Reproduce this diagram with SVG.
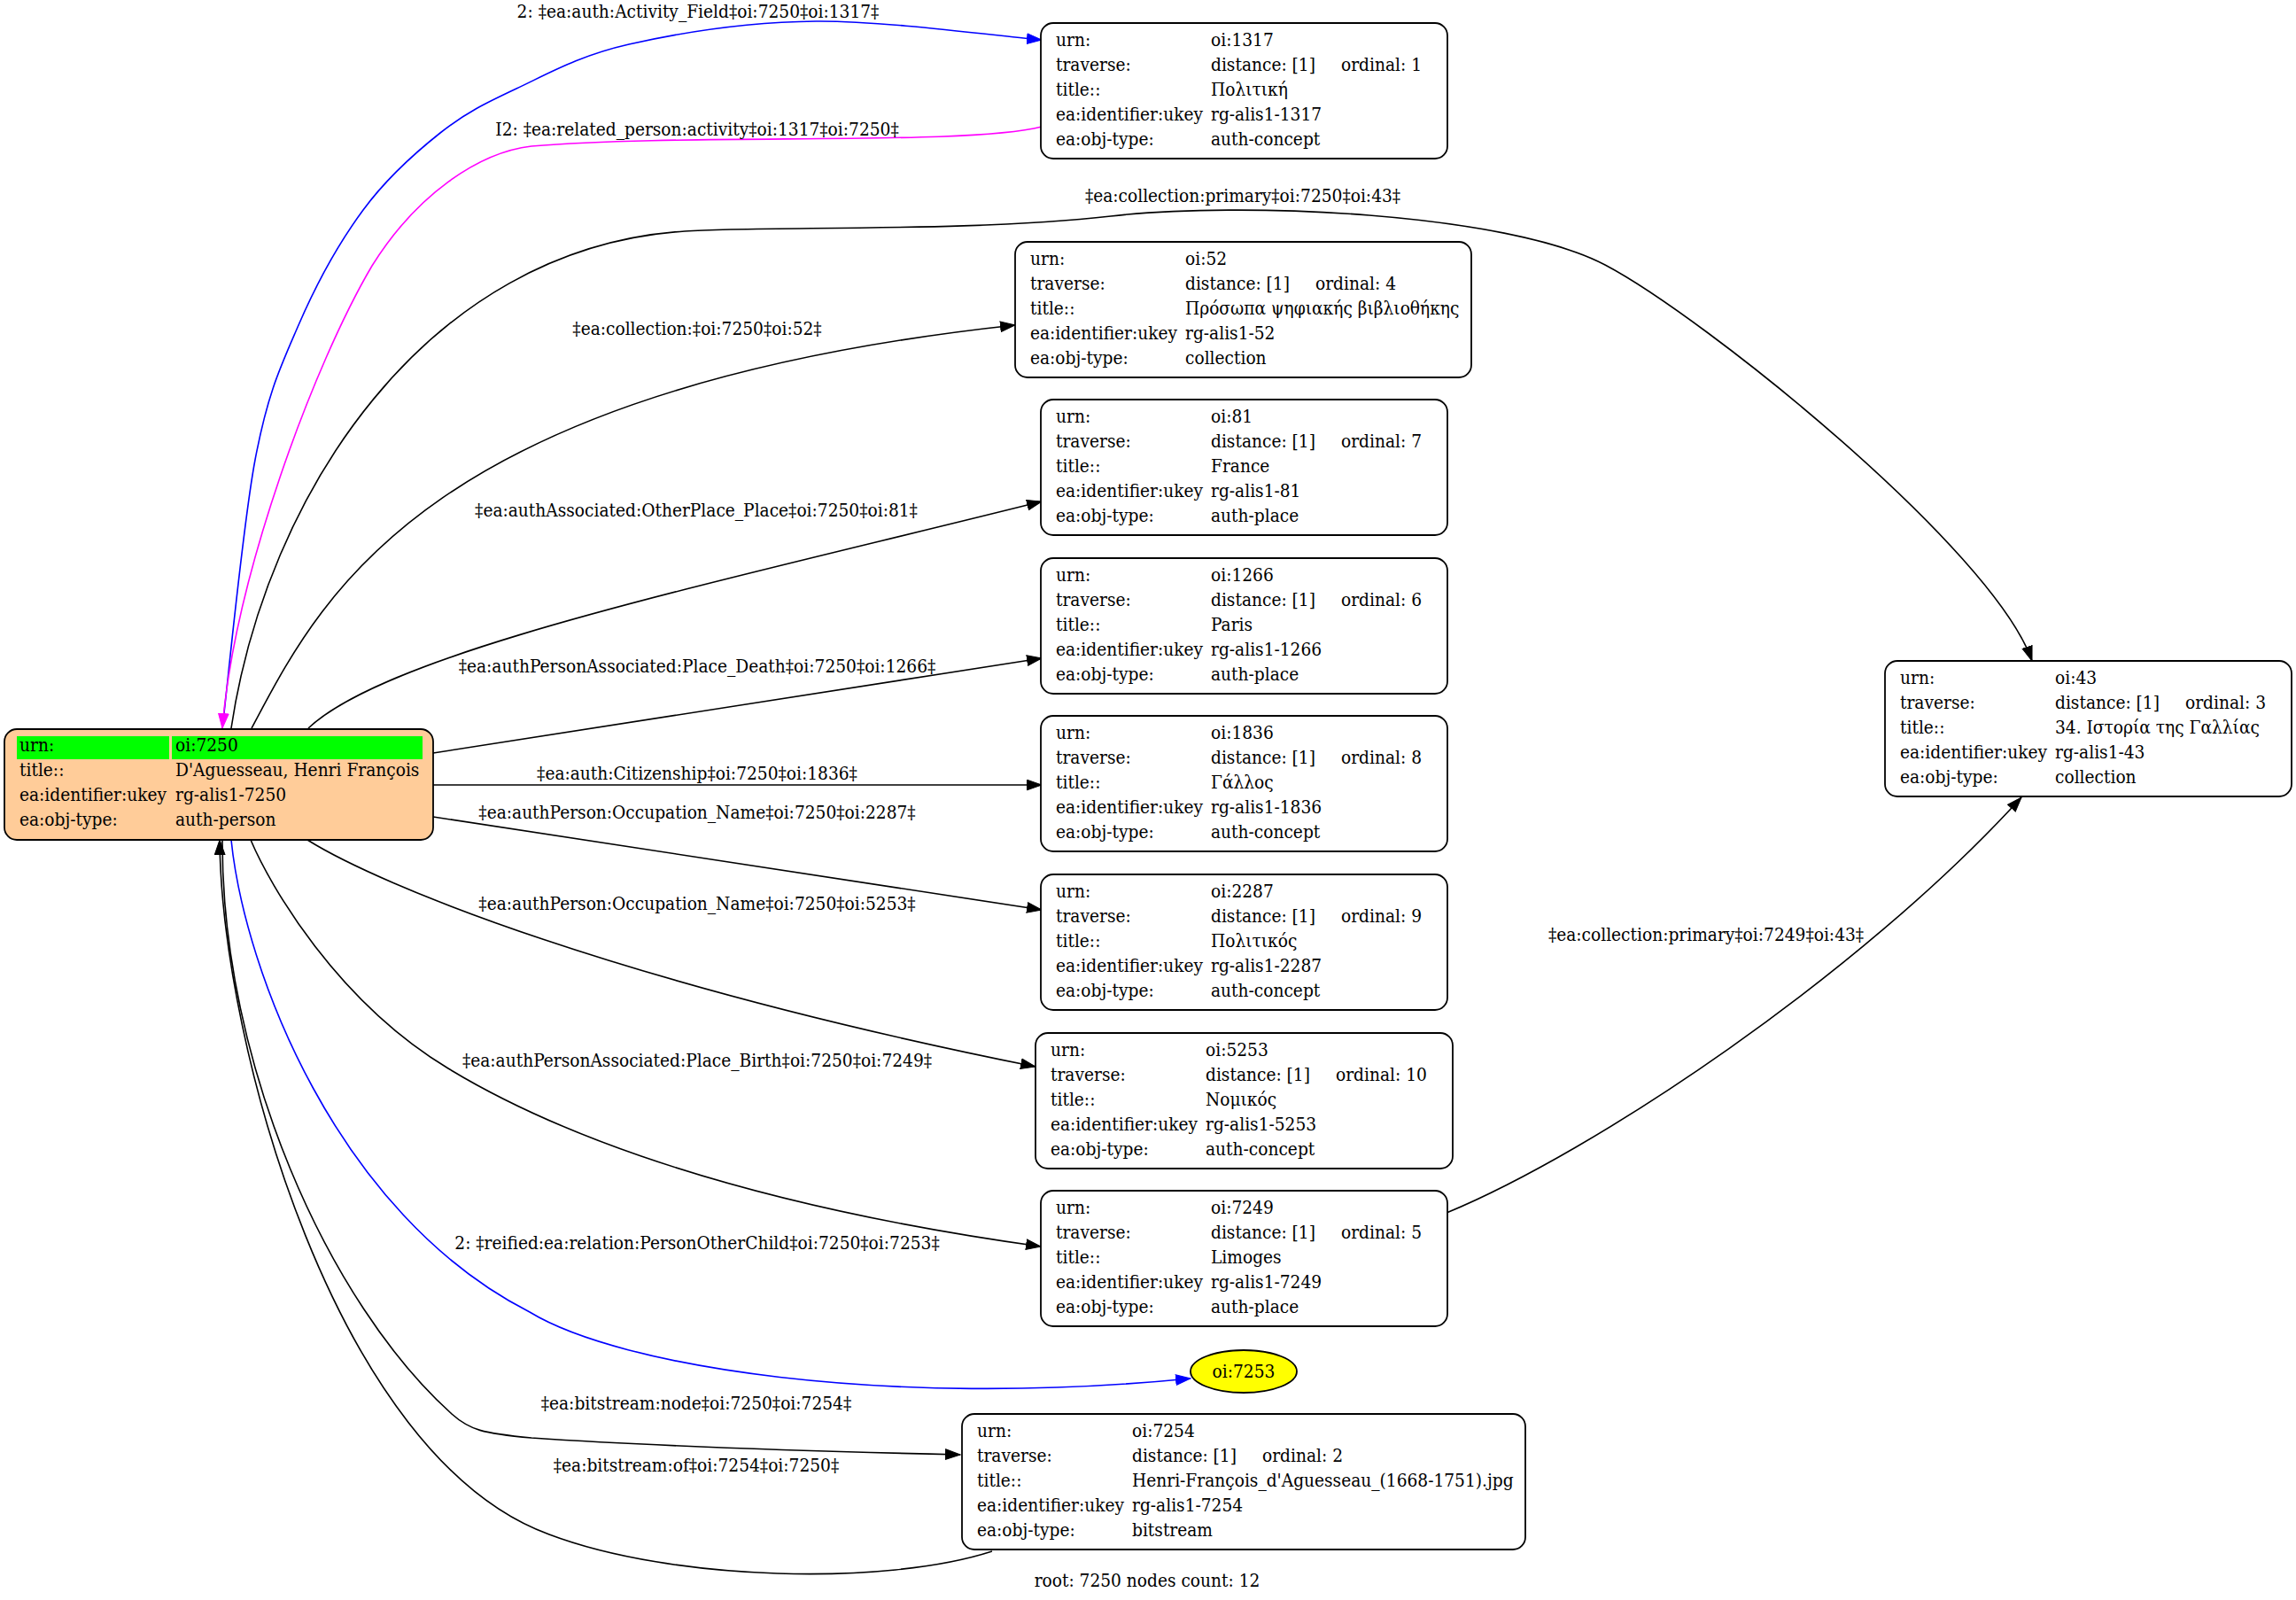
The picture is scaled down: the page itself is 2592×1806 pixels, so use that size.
<svg xmlns="http://www.w3.org/2000/svg" width="2592" height="1806" viewBox="0 0 2592 1806">
<style>
text{font-family:"DejaVu Serif Condensed","DejaVu Serif",serif;font-stretch:condensed;font-size:20.7px;fill:#000}
.lb{text-anchor:middle}
.box{fill:#fff;stroke:#000;stroke-width:1.8}
.e{fill:none;stroke:#000;stroke-width:1.6}
.eb{fill:none;stroke:#0000ff;stroke-width:1.6}
.em{fill:none;stroke:#ff00ff;stroke-width:1.6}
</style>
<defs>
<marker id="ak" markerUnits="userSpaceOnUse" markerWidth="18" markerHeight="13" viewBox="0 0 18 13" refX="17" refY="6.5" orient="auto"><path d="M0.5,0.7 L17,6.5 L0.5,12.3 z" fill="#000" stroke="#000" stroke-width="1"/></marker>
<marker id="ablue" markerUnits="userSpaceOnUse" markerWidth="18" markerHeight="13" viewBox="0 0 18 13" refX="17" refY="6.5" orient="auto"><path d="M0.5,0.7 L17,6.5 L0.5,12.3 z" fill="#0000ff" stroke="#0000ff" stroke-width="1"/></marker>
<marker id="amag" markerUnits="userSpaceOnUse" markerWidth="18" markerHeight="13" viewBox="0 0 18 13" refX="17" refY="6.5" orient="auto"><path d="M0.5,0.7 L17,6.5 L0.5,12.3 z" fill="#ff00ff" stroke="#ff00ff" stroke-width="1"/></marker>
</defs>
<rect width="2592" height="1806" fill="#fff"/>

<g id="edges">
<path class="eb" marker-end="url(#ablue)" d="M251,822 C257.2,771.5 273.7,594.8 288,519 C302.3,443.2 316.7,414 337,367 C357.3,320 383.3,273.2 410,237 C436.7,200.8 468.2,172.8 497,150 C525.8,127.2 547.5,116.7 583,100 C618.5,83.3 653.7,62.7 710,50 C766.3,37.3 843.3,24.8 921,24 C998.7,23.2 1133.5,41.5 1176,45"/>
<text class="lb" x="788" y="20">2: ‡ea:auth:Activity_Field‡oi:7250‡oi:1317‡</text>
<path class="em" marker-end="url(#amag)" d="M1176,143 C1090,165 780,150 600,165 C540,172 470,220 420,300 C355,410 265,650 251,822"/>
<text class="lb" x="787" y="153">I2: ‡ea:related_person:activity‡oi:1317‡oi:7250‡</text>
<path class="e" marker-end="url(#ak)" d="M261,822 C300,560 480,280 773,261 C863,255 1100,262 1254,244 C1400,227 1700,240 1812,299 C1924,358 2250,620 2294,746"/>
<text class="lb" x="1403" y="228">‡ea:collection:primary‡oi:7250‡oi:43‡</text>
<path class="e" marker-end="url(#ak)" d="M284,822 C360,680 470,440 1146,367"/>
<text class="lb" x="787" y="378">‡ea:collection:‡oi:7250‡oi:52‡</text>
<path class="e" marker-end="url(#ak)" d="M348,822 C440,735 800,660 1176,566"/>
<text class="lb" x="786" y="583">‡ea:authAssociated:OtherPlace_Place‡oi:7250‡oi:81‡</text>
<path class="e" marker-end="url(#ak)" d="M489,850 C718,814 947,779 1176,743"/>
<text class="lb" x="787" y="759">‡ea:authPersonAssociated:Place_Death‡oi:7250‡oi:1266‡</text>
<path class="e" marker-end="url(#ak)" d="M489,886 L1176,886"/>
<text class="lb" x="787" y="880">‡ea:auth:Citizenship‡oi:7250‡oi:1836‡</text>
<path class="e" marker-end="url(#ak)" d="M489,922 C718,957 947,992 1176,1027"/>
<text class="lb" x="787" y="924">‡ea:authPerson:Occupation_Name‡oi:7250‡oi:2287‡</text>
<path class="e" marker-end="url(#ak)" d="M347,948 C430,1000 700,1110 1169,1204"/>
<text class="lb" x="787" y="1027">‡ea:authPerson:Occupation_Name‡oi:7250‡oi:5253‡</text>
<path class="e" marker-end="url(#ak)" d="M283,948 C305,1000 380,1130 506,1206 C590,1257 780,1352 1175,1407"/>
<text class="lb" x="787" y="1204">‡ea:authPersonAssociated:Place_Birth‡oi:7250‡oi:7249‡</text>
<path class="eb" marker-end="url(#ablue)" d="M261,948 C276,1095 380,1370 598,1481 C700,1543 1000,1590 1344,1556"/>
<text class="lb" x="787" y="1410">2: ‡reified:ea:relation:PersonOtherChild‡oi:7250‡oi:7253‡</text>
<path class="e" marker-end="url(#ak)" d="M251,948 C250,1200 370,1470 510,1596 C530,1614 545,1618 600,1623 C750,1633 950,1639 1084,1642"/>
<text class="lb" x="786" y="1591">‡ea:bitstream:node‡oi:7250‡oi:7254‡</text>
<path class="e" marker-end="url(#ak)" d="M1120,1751 C1000,1790 760,1785 620,1732 C380,1645 250,1180 248,948"/>
<text class="lb" x="786" y="1661">‡ea:bitstream:of‡oi:7254‡oi:7250‡</text>
<path class="e" marker-end="url(#ak)" d="M1633,1369 C1800,1300 2100,1100 2282,900"/>
<text class="lb" x="1926" y="1062">‡ea:collection:primary‡oi:7249‡oi:43‡</text>
</g>

<g id="n7250">
<rect x="5" y="823" width="484" height="125" rx="14" fill="#ffcc99" stroke="#000" stroke-width="1.8"/>
<rect x="19" y="831" width="172" height="26" fill="#00ff00"/>
<rect x="194" y="831" width="283" height="26" fill="#00ff00"/>
<text x="22" y="848">urn:</text><text x="198" y="848">oi:7250</text>
<text x="22" y="876">title::</text><text x="198" y="876">D'Aguesseau, Henri François</text>
<text x="22" y="904">ea:identifier:ukey</text><text x="198" y="904">rg-alis1-7250</text>
<text x="22" y="932">ea:obj-type:</text><text x="198" y="932">auth-person</text>
</g>

<g id="n1317" transform="translate(1175,26)">
<rect class="box" width="459" height="153" rx="14"/>
<text x="17" y="26">urn:</text><text x="192" y="26">oi:1317</text>
<text x="17" y="54">traverse:</text><text x="192" y="54">distance: [1]</text><text x="339" y="54">ordinal: 1</text>
<text x="17" y="82">title::</text><text x="192" y="82">Πολιτική</text>
<text x="17" y="110">ea:identifier:ukey</text><text x="192" y="110">rg-alis1-1317</text>
<text x="17" y="138">ea:obj-type:</text><text x="192" y="138">auth-concept</text>
</g>

<g id="n52" transform="translate(1146,273)">
<rect class="box" width="515" height="153" rx="14"/>
<text x="17" y="26">urn:</text><text x="192" y="26">oi:52</text>
<text x="17" y="54">traverse:</text><text x="192" y="54">distance: [1]</text><text x="339" y="54">ordinal: 4</text>
<text x="17" y="82">title::</text><text x="192" y="82">Πρόσωπα ψηφιακής βιβλιοθήκης</text>
<text x="17" y="110">ea:identifier:ukey</text><text x="192" y="110">rg-alis1-52</text>
<text x="17" y="138">ea:obj-type:</text><text x="192" y="138">collection</text>
</g>

<g id="n81" transform="translate(1175,451)">
<rect class="box" width="459" height="153" rx="14"/>
<text x="17" y="26">urn:</text><text x="192" y="26">oi:81</text>
<text x="17" y="54">traverse:</text><text x="192" y="54">distance: [1]</text><text x="339" y="54">ordinal: 7</text>
<text x="17" y="82">title::</text><text x="192" y="82">France</text>
<text x="17" y="110">ea:identifier:ukey</text><text x="192" y="110">rg-alis1-81</text>
<text x="17" y="138">ea:obj-type:</text><text x="192" y="138">auth-place</text>
</g>

<g id="n1266" transform="translate(1175,630)">
<rect class="box" width="459" height="153" rx="14"/>
<text x="17" y="26">urn:</text><text x="192" y="26">oi:1266</text>
<text x="17" y="54">traverse:</text><text x="192" y="54">distance: [1]</text><text x="339" y="54">ordinal: 6</text>
<text x="17" y="82">title::</text><text x="192" y="82">Paris</text>
<text x="17" y="110">ea:identifier:ukey</text><text x="192" y="110">rg-alis1-1266</text>
<text x="17" y="138">ea:obj-type:</text><text x="192" y="138">auth-place</text>
</g>

<g id="n1836" transform="translate(1175,808)">
<rect class="box" width="459" height="153" rx="14"/>
<text x="17" y="26">urn:</text><text x="192" y="26">oi:1836</text>
<text x="17" y="54">traverse:</text><text x="192" y="54">distance: [1]</text><text x="339" y="54">ordinal: 8</text>
<text x="17" y="82">title::</text><text x="192" y="82">Γάλλος</text>
<text x="17" y="110">ea:identifier:ukey</text><text x="192" y="110">rg-alis1-1836</text>
<text x="17" y="138">ea:obj-type:</text><text x="192" y="138">auth-concept</text>
</g>

<g id="n2287" transform="translate(1175,987)">
<rect class="box" width="459" height="153" rx="14"/>
<text x="17" y="26">urn:</text><text x="192" y="26">oi:2287</text>
<text x="17" y="54">traverse:</text><text x="192" y="54">distance: [1]</text><text x="339" y="54">ordinal: 9</text>
<text x="17" y="82">title::</text><text x="192" y="82">Πολιτικός</text>
<text x="17" y="110">ea:identifier:ukey</text><text x="192" y="110">rg-alis1-2287</text>
<text x="17" y="138">ea:obj-type:</text><text x="192" y="138">auth-concept</text>
</g>

<g id="n5253" transform="translate(1169,1166)">
<rect class="box" width="471" height="153" rx="14"/>
<text x="17" y="26">urn:</text><text x="192" y="26">oi:5253</text>
<text x="17" y="54">traverse:</text><text x="192" y="54">distance: [1]</text><text x="339" y="54">ordinal: 10</text>
<text x="17" y="82">title::</text><text x="192" y="82">Νομικός</text>
<text x="17" y="110">ea:identifier:ukey</text><text x="192" y="110">rg-alis1-5253</text>
<text x="17" y="138">ea:obj-type:</text><text x="192" y="138">auth-concept</text>
</g>

<g id="n7249" transform="translate(1175,1344)">
<rect class="box" width="459" height="153" rx="14"/>
<text x="17" y="26">urn:</text><text x="192" y="26">oi:7249</text>
<text x="17" y="54">traverse:</text><text x="192" y="54">distance: [1]</text><text x="339" y="54">ordinal: 5</text>
<text x="17" y="82">title::</text><text x="192" y="82">Limoges</text>
<text x="17" y="110">ea:identifier:ukey</text><text x="192" y="110">rg-alis1-7249</text>
<text x="17" y="138">ea:obj-type:</text><text x="192" y="138">auth-place</text>
</g>

<g id="n7253">
<ellipse cx="1404" cy="1548" rx="60" ry="24" fill="#ffff00" stroke="#000" stroke-width="1.8"/>
<text class="lb" x="1404" y="1555">oi:7253</text>
</g>

<g id="n7254" transform="translate(1086,1596)">
<rect class="box" width="636" height="153" rx="14"/>
<text x="17" y="26">urn:</text><text x="192" y="26">oi:7254</text>
<text x="17" y="54">traverse:</text><text x="192" y="54">distance: [1]</text><text x="339" y="54">ordinal: 2</text>
<text x="17" y="82">title::</text><text x="192" y="82">Henri-François_d'Aguesseau_(1668-1751).jpg</text>
<text x="17" y="110">ea:identifier:ukey</text><text x="192" y="110">rg-alis1-7254</text>
<text x="17" y="138">ea:obj-type:</text><text x="192" y="138">bitstream</text>
</g>

<g id="n43" transform="translate(2128,746)">
<rect class="box" width="459" height="153" rx="14"/>
<text x="17" y="26">urn:</text><text x="192" y="26">oi:43</text>
<text x="17" y="54">traverse:</text><text x="192" y="54">distance: [1]</text><text x="339" y="54">ordinal: 3</text>
<text x="17" y="82">title::</text><text x="192" y="82">34. Ιστορία της Γαλλίας</text>
<text x="17" y="110">ea:identifier:ukey</text><text x="192" y="110">rg-alis1-43</text>
<text x="17" y="138">ea:obj-type:</text><text x="192" y="138">collection</text>
</g>

<text class="lb" x="1295" y="1791">root: 7250 nodes count: 12</text>
</svg>
